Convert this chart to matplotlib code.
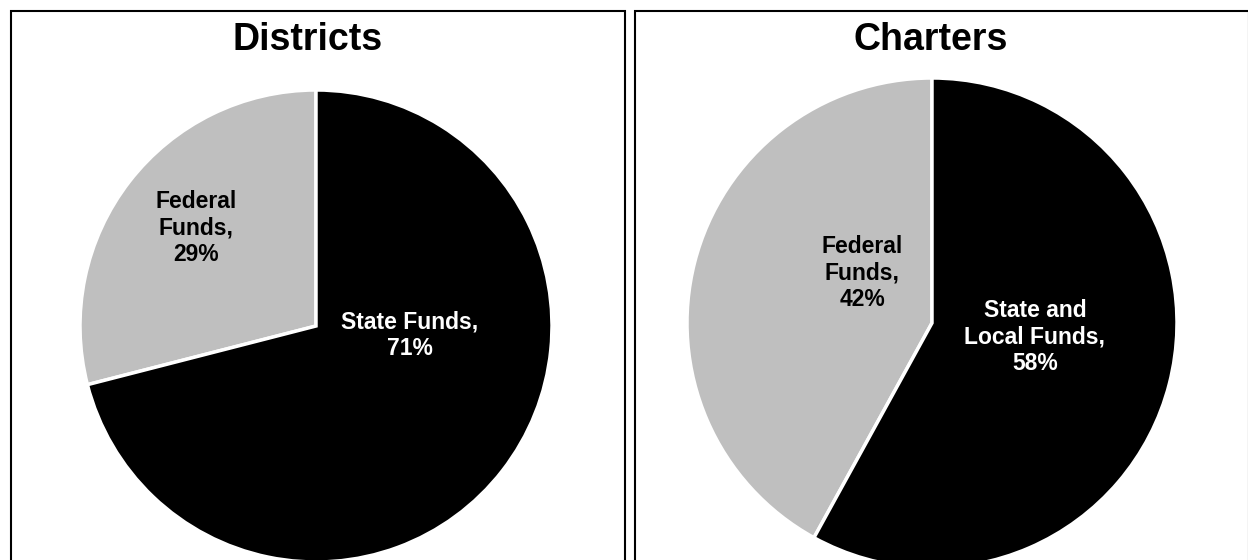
import matplotlib
matplotlib.use("Agg")
import matplotlib.pyplot as plt
from matplotlib.patches import Rectangle

# Funding shares (percent)
district_categories = ["Federal\nFunds", "State Funds"]
district_values = [29, 71]
charter_categories = ["Federal\nFunds", "State and\nLocal Funds"]
charter_values = [42, 58]
panel_titles = ["Districts", "Charters"]

W, H = 1248, 560
GRAY = "#BFBFBF"
BLACK = "#000000"

plt.rcParams["font.family"] = ["Liberation Sans", "DejaVu Sans"]

fig = plt.figure(figsize=(W / 100, H / 100), dpi=100)
ax = fig.add_axes([0, 0, 1, 1])


def y(py):
    """Convert a top-down pixel row to the axes' bottom-up coordinate."""
    return H - py


panels = [
    dict(title=panel_titles[0], cats=district_categories, vals=district_values,
         box=(11, 625), center=(316, 326), radius=236, title_x=308,
         label_xy=[(196, 228), (410, 335)]),
    dict(title=panel_titles[1], cats=charter_categories, vals=charter_values,
         box=(635, 1249), center=(932, 323), radius=245, title_x=931,
         label_xy=[(862, 273), (1035, 337)]),
]

for p in panels:
    x0, x1 = p["box"]
    ax.add_patch(Rectangle((x0, -40), x1 - x0, y(11) + 40, fill=False,
                           edgecolor="black", linewidth=1.5, zorder=5))
    ax.text(p["title_x"], y(50), p["title"], ha="center", va="baseline",
            fontsize=27, fontweight="bold", color="black")

    cx, cy = p["center"]
    ax.pie(p["vals"], colors=[GRAY, BLACK], startangle=90, counterclock=True,
           center=(cx, y(cy)), radius=p["radius"], frame=True,
           wedgeprops=dict(edgecolor="white", linewidth=2.5))

    for cat, val, (lx, ly), tc in zip(p["cats"], p["vals"], p["label_xy"],
                                      ["black", "white"]):
        ax.text(lx, y(ly), f"{cat},\n{val}%", ha="center", va="center",
                fontsize=16.5, fontweight="bold", color=tc, linespacing=1.2)

ax.set_xlim(0, W)
ax.set_ylim(0, H)
ax.set_aspect("equal")
ax.axis("off")

fig.savefig("out.png", dpi=100, facecolor="white")
